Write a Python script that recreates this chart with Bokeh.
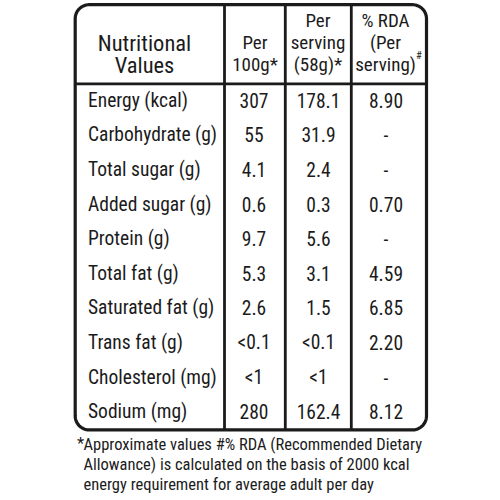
import numpy as np
from bokeh.plotting import figure
from bokeh.models import Range1d, ColumnDataSource
from bokeh.embed import file_html
from bokeh.resources import INLINE
from bokeh.core.properties import value

# ---------------- data ----------------
nutrients = ["Energy (kcal)", "Carbohydrate (g)", "Total sugar (g)", "Added sugar (g)",
             "Protein (g)", "Total fat (g)", "Saturated fat (g)", "Trans fat (g)",
             "Cholesterol (mg)", "Sodium (mg)"]
per_100g = ["307", "55", "4.1", "0.6", "9.7", "5.3", "2.6", "<0.1", "<1", "280"]
per_serving = ["178.1", "31.9", "2.4", "0.3", "5.6", "3.1", "1.5", "<0.1", "<1", "162.4"]
rda = ["8.90", "-", "-", "0.70", "-", "4.59", "6.85", "2.20", "-", "8.12"]

header_nutr = ["Nutritional", "Values"]
header_100g = ["Per", "100g*"]
header_serv = ["Per", "serving", "(58g)*"]
header_rda = ["% RDA", "(Per", "serving)"]
header_rda_mark = "#"
footnote_mark = "*"
footnote = ["Approximate values #% RDA (Recommended Dietary",
            "Allowance) is calculated on the basis of 2000 kcal",
            "energy requirement for average adult per day"]

# ---------------- layout (screen pixel space) ----------------
FONT = value("Roboto Condensed")
INK = "#1b1b1b"
X0, X1, Y0, Y1, R = 74.7, 426.0, 4.2, 429.4, 14.0
HEAD_Y = 83.3
COL_LINES = [224.0, 284.8, 350.8]
LABEL_X = 87.5
VAL_X = [253.5, 318.0, 385.5]
SHIFT = 8.5          # renderer places text ~8.5px below the given anchor
ROW0_BASE, ROW_STEP = 108.3 - SHIFT, 34.6
HEAD_BASE = [28.0 - SHIFT, 50.6 - SHIFT, 72.8 - SHIFT]
BODY_SIZE = "19.5px"
HEAD_SIZE = "19px"

p = figure(width=500, height=500, x_range=Range1d(0, 500), y_range=Range1d(500, 0),
           output_backend="svg", toolbar_location=None, min_border=0)
p.axis.visible = False
p.grid.visible = False
p.outline_line_color = None
p.background_fill_color = "white"
p.border_fill_color = "white"

# rounded frame
def rounded_rect(x0, y0, x1, y1, r, n=16):
    xs, ys = [], []
    corners = [(x1 - r, y0 + r, -90, 0), (x1 - r, y1 - r, 0, 90),
               (x0 + r, y1 - r, 90, 180), (x0 + r, y0 + r, 180, 270)]
    for cx, cy, a0, a1 in corners:
        t = np.radians(np.linspace(a0, a1, n))
        xs.extend(cx + r * np.cos(t))
        ys.extend(cy + r * np.sin(t))
    xs.append(xs[0]); ys.append(ys[0])
    return xs, ys

fx, fy = rounded_rect(X0, Y0, X1, Y1, R)
p.line(fx, fy, line_color=INK, line_width=3.2, line_join="round")

# header rule and column rules
p.segment(x0=[X0], y0=[HEAD_Y], x1=[X1], y1=[HEAD_Y], line_color=INK, line_width=2.8)
p.segment(x0=COL_LINES, y0=[Y0] * 3, x1=COL_LINES, y1=[Y1] * 3, line_color=INK, line_width=2.8)

# header texts
def header(lines, x, bases, size):
    src = ColumnDataSource(dict(x=[x] * len(lines), y=bases, t=lines))
    p.text("x", "y", text="t", source=src, text_font=FONT, text_font_size=size,
           text_color=INK, text_align="center", text_baseline="alphabetic")

header(header_nutr, 144.0, HEAD_BASE[1:], "22.5px")
header(header_100g, 254.5, HEAD_BASE[1:], HEAD_SIZE)
header(header_serv, 317.5, HEAD_BASE, HEAD_SIZE)
header(header_rda, 385.0, HEAD_BASE, HEAD_SIZE)
p.text(x=[415.5], y=[63.0 - SHIFT], text=[header_rda_mark], text_font=FONT, text_font_size="10.5px",
       text_color=INK, text_align="left", text_baseline="alphabetic")

# body rows
n = len(nutrients)
row_y = [ROW0_BASE + ROW_STEP * i for i in range(n)]
src = ColumnDataSource(dict(y=row_y, lab=nutrients, a=per_100g, b=per_serving, c=rda,
                            lx=[LABEL_X] * n, ax=[VAL_X[0]] * n, bx=[VAL_X[1]] * n, cx=[VAL_X[2]] * n))
p.text("lx", "y", text="lab", source=src, text_font=FONT, text_font_size=BODY_SIZE,
       text_color=INK, text_align="left", text_baseline="alphabetic")
for col_x, col in (("ax", "a"), ("bx", "b"), ("cx", "c")):
    p.text(col_x, "y", text=col, source=src, text_font=FONT, text_font_size=BODY_SIZE,
           text_color=INK, text_align="center", text_baseline="alphabetic")

# footnote
FOOT_BASE = [452.5 - SHIFT, 472.5 - SHIFT, 492.5 - SHIFT]
p.text(x=[76.5], y=[FOOT_BASE[0] - 1.5], text=[footnote_mark], text_font=FONT, text_font_size="16.5px",
       text_color=INK, text_align="left", text_baseline="alphabetic")
p.text(x=[83.0] * 3, y=FOOT_BASE, text=footnote, text_font=FONT, text_font_size="16.5px",
       text_color=INK, text_align="left", text_baseline="alphabetic")

open("out.html", "w").write(file_html(p, INLINE))
